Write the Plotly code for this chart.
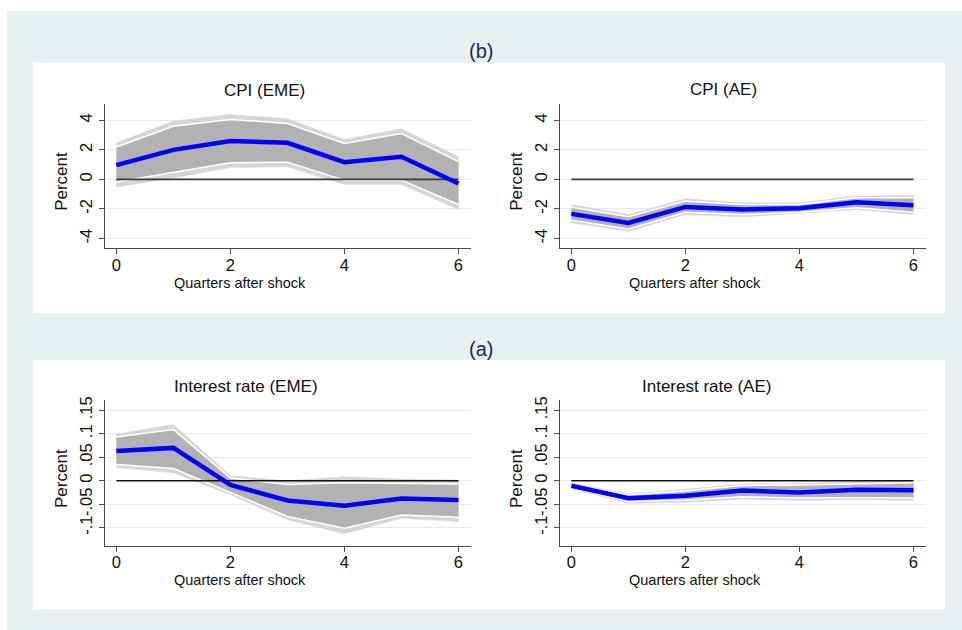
import plotly.graph_objects as go

W, H = 962, 630

quarters = [0, 1, 2, 3, 4, 5, 6]
zero_line = [0, 0, 0, 0, 0, 0, 0]

# CPI (EME)
cpi_eme = [0.97, 2.0, 2.6, 2.48, 1.17, 1.53, -0.27]
cpi_eme_in_hi = [2.19, 3.6, 4.06, 3.79, 2.44, 3.1, 1.2]
cpi_eme_in_lo = [-0.18, 0.45, 1.13, 1.17, -0.05, -0.05, -1.7]
cpi_eme_out_hi = [2.48, 3.95, 4.4, 4.1, 2.7, 3.43, 1.53]
cpi_eme_out_lo = [-0.52, 0.1, 0.8, 0.86, -0.34, -0.34, -2.03]

# CPI (AE)
cpi_ae = [-2.33, -2.94, -1.86, -2.04, -1.95, -1.54, -1.74]
cpi_ae_in_hi = [-1.88, -2.53, -1.47, -1.7, -1.7, -1.24, -1.24]
cpi_ae_in_lo = [-2.76, -3.35, -2.22, -2.38, -2.22, -1.92, -2.22]
cpi_ae_out_hi = [-1.7, -2.38, -1.31, -1.58, -1.58, -1.13, -1.08]
cpi_ae_out_lo = [-2.94, -3.5, -2.38, -2.53, -2.3, -2.04, -2.38]

# Interest rate (EME)
ir_eme = [0.0636, 0.07, -0.009, -0.042, -0.053, -0.038, -0.041]
ir_eme_in_hi = [0.093, 0.109, 0.0056, -0.0078, -0.004, -0.0056, -0.007]
ir_eme_in_lo = [0.0346, 0.026, -0.025, -0.076, -0.101, -0.073, -0.078]
ir_eme_out_hi = [0.099, 0.12, 0.0106, 0.0, 0.0085, 0.0035, 0.0014]
ir_eme_out_lo = [0.028, 0.017, -0.030, -0.083, -0.113, -0.080, -0.087]

# Interest rate (AE)
ir_ae = [-0.0106, -0.0374, -0.032, -0.021, -0.025, -0.019, -0.020]
ir_ae_in_hi = [-0.008, -0.030, -0.022, -0.010, -0.009, -0.006, -0.004]
ir_ae_in_lo = [-0.014, -0.044, -0.041, -0.034, -0.037, -0.036, -0.037]
ir_ae_out_hi = [-0.006, -0.027, -0.018, -0.007, -0.006, -0.002, 0.0]
ir_ae_out_lo = [-0.016, -0.048, -0.046, -0.039, -0.042, -0.040, -0.042]

cpi_ticks = [-4, -2, 0, 2, 4]
cpi_ticktext = ["-4", "-2", "0", "2", "4"]
ir_ticks = [-0.1, -0.05, 0, 0.05, 0.1, 0.15]
ir_ticktext = ["-.1", "-.05", "0", ".05", ".1", ".15"]
x_ticks = [0, 2, 4, 6]

panel_titles = ["CPI (EME)", "CPI (AE)", "Interest rate (EME)", "Interest rate (AE)"]
group_titles = ["(b)", "(a)"]
x_title = "Quarters after shock"
y_title = "Percent"

FONT = "Liberation Sans, Arial, Helvetica, sans-serif"
BG = "#e8f0f2"
GRID = "#e3edef"
LIGHT = "#d6d6d6"
DARK = "#b2b2b2"
AXIS = "#4a4a4a"


def px_x(p):
    return p / W


def px_y(p):
    return 1 - p / H


fig = go.Figure()

panels = [
    (cpi_eme, cpi_eme_in_hi, cpi_eme_in_lo, cpi_eme_out_hi, cpi_eme_out_lo, "x", "y", "#3a3a3a", 1.8),
    (cpi_ae, cpi_ae_in_hi, cpi_ae_in_lo, cpi_ae_out_hi, cpi_ae_out_lo, "x2", "y2", "#3a3a3a", 1.8),
    (ir_eme, ir_eme_in_hi, ir_eme_in_lo, ir_eme_out_hi, ir_eme_out_lo, "x3", "y3", "#111111", 1.3),
    (ir_ae, ir_ae_in_hi, ir_ae_in_lo, ir_ae_out_hi, ir_ae_out_lo, "x4", "y4", "#111111", 1.3),
]

for (mid, ihi, ilo, ohi, olo, xa, ya, zc, zw) in panels:
    common = dict(x=quarters, xaxis=xa, yaxis=ya, showlegend=False, hoverinfo="skip")
    fig.add_trace(go.Scatter(y=ohi, mode="lines", line=dict(color=LIGHT, width=0.5), **common))
    fig.add_trace(go.Scatter(y=olo, mode="lines", line=dict(color=LIGHT, width=0.5),
                             fill="tonexty", fillcolor=LIGHT, **common))
    fig.add_trace(go.Scatter(y=ihi, mode="lines", line=dict(color="white", width=1.5), **common))
    fig.add_trace(go.Scatter(y=ilo, mode="lines", line=dict(color="white", width=1.5),
                             fill="tonexty", fillcolor=DARK, **common))
    fig.add_trace(go.Scatter(y=zero_line, mode="lines", line=dict(color=zc, width=zw), **common))
    fig.add_trace(go.Scatter(y=mid, mode="lines", line=dict(color="#0000ff", width=4.5), **common))

# axis domains (pixels)
left_x = (105, 471)
right_x = (560, 926)
top_y = (100.7, 246)
bot_y = (399, 545)


def xdom(a):
    return [px_x(a[0]), px_x(a[1])]


def ydom(a):
    return [px_y(a[1]), px_y(a[0])]


TICKSIZE = 16.5

xaxis_common = dict(
    range=[-0.2, 6.22], tickvals=x_ticks, showgrid=False, zeroline=False,
    showline=True, linecolor=AXIS, linewidth=1, ticks="outside", ticklen=5,
    tickcolor=AXIS, tickfont=dict(family=FONT, size=TICKSIZE, color="#111111"),
    ticklabelstandoff=-3, fixedrange=True,
)
yaxis_common = dict(
    showgrid=True, gridcolor=GRID, gridwidth=1, zeroline=False,
    showline=True, linecolor=AXIS, linewidth=1, ticks="outside", ticklen=5,
    tickcolor=AXIS, tickangle=-90, tickfont=dict(family=FONT, size=TICKSIZE, color="#111111"),
    fixedrange=True,
)

fig.update_layout(
    xaxis=dict(domain=xdom(left_x), anchor="y", **xaxis_common),
    xaxis2=dict(domain=xdom(right_x), anchor="y2", **xaxis_common),
    xaxis3=dict(domain=xdom(left_x), anchor="y3", **xaxis_common),
    xaxis4=dict(domain=xdom(right_x), anchor="y4", **xaxis_common),
    yaxis=dict(domain=ydom(top_y), anchor="x", range=[-4.67, 5.1],
               tickvals=cpi_ticks, ticktext=cpi_ticktext, **yaxis_common),
    yaxis2=dict(domain=ydom(top_y), anchor="x2", range=[-4.67, 5.1],
                tickvals=cpi_ticks, ticktext=cpi_ticktext, **yaxis_common),
    yaxis3=dict(domain=ydom(bot_y), anchor="x3", range=[-0.138, 0.171],
                tickvals=ir_ticks, ticktext=ir_ticktext, **yaxis_common),
    yaxis4=dict(domain=ydom(bot_y), anchor="x4", range=[-0.138, 0.171],
                tickvals=ir_ticks, ticktext=ir_ticktext, **yaxis_common),
)

shapes = [
    dict(type="rect", xref="paper", yref="paper", x0=px_x(7), x1=1, y0=0, y1=px_y(7),
         fillcolor=BG, line=dict(width=0), layer="below"),
    dict(type="rect", xref="paper", yref="paper", x0=px_x(33), x1=px_x(945),
         y0=px_y(311), y1=px_y(59), fillcolor="white", line=dict(width=0), layer="below"),
    dict(type="rect", xref="paper", yref="paper", x0=px_x(33), x1=px_x(945),
         y0=px_y(609), y1=px_y(358), fillcolor="white", line=dict(width=0), layer="below"),
]

annotations = []


def ann(text, x, y, size, color="#111111", angle=0):
    annotations.append(dict(
        text=text, xref="paper", yref="paper", x=px_x(x), y=px_y(y),
        xanchor="center", yanchor="middle", showarrow=False, textangle=angle,
        font=dict(family=FONT, size=size, color=color),
    ))


ann(group_titles[0], 481, 47, 20, color="#1e2a55")
ann(group_titles[1], 481, 347, 20, color="#1e2a55")

ann(panel_titles[0], 264, 87, 17)
ann(panel_titles[1], 723, 86, 17)
ann(panel_titles[2], 246, 385, 17)
ann(panel_titles[3], 706, 385, 17)

for xx, yy in [(240, 281), (695, 281), (240, 580), (695, 580)]:
    ann(x_title, xx, yy, 14.5)

for xx, yy in [(62, 179), (517, 179), (62, 478), (517, 478)]:
    ann(y_title, xx, yy, 17, angle=-90)

fig.update_layout(
    width=W, height=H, margin=dict(l=0, r=0, t=0, b=0),
    paper_bgcolor="white", plot_bgcolor="rgba(0,0,0,0)",
    shapes=shapes, annotations=annotations, showlegend=False,
)

fig.write_html("out.html", include_plotlyjs=True, config={"displayModeBar": False})
